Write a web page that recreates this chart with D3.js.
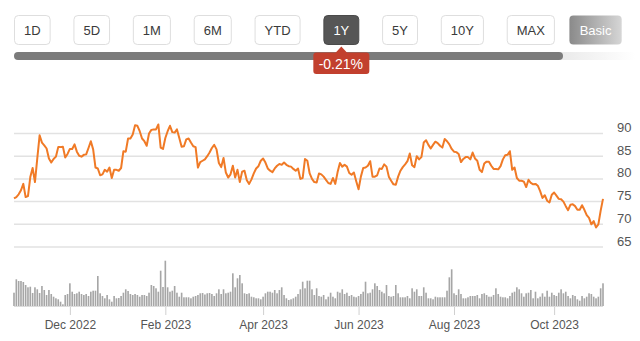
<!DOCTYPE html>
<html>
<head>
<meta charset="utf-8">
<script src="https://cdn.jsdelivr.net/npm/d3@7"></script>
<style>
  html, body { margin: 0; padding: 0; background: #fff; }
  svg { display: block; font-family: "Liberation Sans", Arial, Helvetica, sans-serif; }
</style>
</head>
<body>
<svg id="chart" width="640" height="341"></svg>
<script>
// Range selector buttons
const ranges = ["1D", "5D", "1M", "6M", "YTD", "1Y", "5Y", "10Y", "MAX", "Basic"];
const activeRange = "1Y";
const changeLabel = "-0.21%";

// Daily closing prices, one per trading day
const prices = [
  75.7, 76.0, 76.6, 77.5, 78.9, 76.0, 76.2, 80.4, 82.4, 79.3,
  84.5, 89.6, 88.0, 87.4, 86.7, 84.5, 83.6, 84.4, 84.9, 87.0,
  87.0, 87.1, 84.7, 85.5, 86.6, 86.6, 87.6, 86.0, 85.1, 84.9,
  85.3, 85.4, 86.8, 88.3, 86.5, 82.5, 82.3, 80.8, 81.0, 82.0,
  81.6, 82.5, 80.2, 82.0, 82.0, 81.8, 82.4, 86.1, 86.0, 88.9,
  88.9, 89.8, 91.8, 91.7, 90.5, 88.9, 88.3, 87.3, 90.0, 90.8,
  90.9, 90.9, 92.0, 86.9, 86.6, 89.0, 90.5, 91.7, 90.3, 90.2,
  90.9, 89.0, 87.1, 87.2, 88.7, 88.9, 88.0, 87.2, 87.0, 82.5,
  83.7, 84.0, 84.3, 85.0, 85.8, 86.8, 87.5, 86.5, 83.5, 82.6,
  84.6, 81.4, 80.3, 81.0, 82.9, 80.3, 82.0, 79.3, 81.6, 81.8,
  79.7, 78.9, 79.9, 81.2, 82.3, 82.8, 84.0, 84.5, 83.6, 82.3,
  81.8, 81.5, 82.3, 82.9, 83.3, 83.1, 83.6, 83.1, 82.8, 82.7,
  82.2, 81.8, 82.3, 80.0, 80.2, 84.4, 84.0, 81.2, 80.0, 79.3,
  79.2, 81.2, 81.0, 80.5, 79.8, 79.1, 78.9, 80.2, 78.9, 81.5,
  83.5, 82.7, 83.1, 82.7, 81.3, 80.9, 81.4, 79.5, 77.7, 80.5,
  82.4, 82.5, 82.9, 83.9, 80.5, 80.5, 80.8, 82.3, 82.2, 83.2,
  82.7, 80.5, 79.6, 78.8, 78.7, 80.5, 81.8, 82.6, 83.2, 83.9,
  85.6, 83.0, 82.6, 85.0, 84.3, 84.8, 88.0, 88.5, 87.5, 86.7,
  87.5, 88.2, 87.9, 87.3, 86.9, 88.8, 88.3, 87.6, 86.6, 86.0,
  85.9, 85.5, 83.7, 84.4, 84.8, 84.8, 84.3, 85.8, 84.5, 84.0,
  82.0, 81.5, 83.4, 83.8, 83.8, 82.9, 82.2, 82.2, 82.1, 82.8,
  84.3, 85.2, 85.3, 86.1, 82.0, 82.5, 80.2, 79.6, 79.6, 79.4,
  78.2, 79.8, 79.1, 78.8, 78.9, 78.5, 77.3, 75.8, 76.4, 75.2,
  74.8, 76.5, 77.0, 76.3, 75.6, 75.5, 75.0, 74.0, 73.1, 74.3,
  74.4, 74.0, 73.2, 73.2, 74.2, 73.2, 72.0, 71.4, 70.0, 70.7,
  69.3, 70.0, 73.0, 75.6
];

// Daily trading volume (millions of shares)
const volume = [
  13.3, 26.7, 25.0, 25.0, 24.0, 21.0, 18.7, 19.3, 13.0, 18.7,
  16.7, 13.0, 20.0, 16.0, 11.0, 16.0, 12.0, 9.3, 7.7, 6.7,
  4.3, 1.7, 11.0, 12.0, 22.7, 14.3, 12.0, 12.7, 14.3, 12.0,
  11.0, 12.0, 10.0, 14.3, 15.3, 15.3, 30.0, 12.7, 10.0, 7.7,
  11.0, 6.7, 4.3, 10.0, 7.7, 8.0, 10.0, 13.3, 16.7, 15.0,
  12.0, 11.0, 12.0, 11.0, 9.3, 11.0, 11.0, 10.0, 13.3, 21.0,
  20.0, 17.7, 14.3, 35.3, 19.0, 45.3, 18.7, 14.3, 15.3, 20.0,
  13.3, 9.3, 13.3, 8.7, 8.7, 8.7, 7.7, 9.3, 10.0, 11.0,
  12.7, 13.0, 11.5, 12.7, 13.0, 12.0, 10.0, 12.7, 16.7, 12.0,
  16.7, 12.7, 13.3, 14.3, 32.7, 18.7, 27.7, 31.0, 22.7, 12.7,
  12.0, 12.7, 9.3, 8.7, 7.7, 7.7, 6.7, 9.3, 12.7, 14.3,
  14.3, 13.3, 16.0, 12.7, 16.0, 18.7, 11.0, 7.7, 6.0, 6.7,
  7.7, 9.3, 12.0, 16.7, 24.3, 17.7, 25.3, 25.3, 16.7, 11.0,
  17.7, 10.0, 9.3, 11.0, 6.7, 9.3, 13.3, 9.3, 7.7, 14.3,
  13.3, 16.7, 12.0, 13.3, 10.0, 11.0, 9.3, 8.7, 10.0, 12.0,
  14.3, 24.3, 12.7, 13.3, 16.7, 22.7, 20.0, 16.0, 14.3, 12.7,
  21.0, 10.0, 9.3, 10.0, 21.0, 12.7, 8.7, 8.7, 8.7, 10.0,
  7.7, 17.7, 14.3, 16.7, 10.0, 10.0, 18.7, 13.3, 7.7, 7.7,
  6.7, 9.3, 8.7, 8.7, 8.7, 8.7, 15.3, 28.7, 36.7, 12.7,
  11.0, 16.7, 12.0, 7.7, 7.7, 8.7, 10.0, 10.0, 10.0, 11.0,
  7.7, 12.0, 12.7, 11.0, 9.3, 9.3, 11.0, 17.7, 12.0, 9.3,
  8.7, 8.7, 7.7, 10.0, 13.3, 14.3, 18.7, 16.7, 12.7, 9.3,
  12.7, 13.3, 16.0, 7.7, 14.3, 7.7, 9.3, 12.7, 9.3, 15.3,
  9.3, 13.3, 11.0, 10.0, 13.3, 16.7, 12.7, 14.3, 10.0, 7.7,
  11.0, 10.0, 6.7, 5.3, 10.0, 7.7, 9.3, 12.7, 12.0, 9.3,
  7.7, 9.3, 17.7, 22.7
];

// Month labels and the trading-day index where each month begins
const monthLabels = ["Dec 2022", "Feb 2023", "Apr 2023", "Jun 2023", "Aug 2023", "Oct 2023"];
const monthStartIndex = [24, 65, 107, 148, 189, 232];

// Price axis ticks
const priceTicks = [65, 70, 75, 80, 85, 90];

const svg = d3.select("#chart");
const left = 14, right = 603;

// ---------- range buttons ----------
const btnY = 15, btnH = 30, pad = 10, gap = 22.8;
const measure = svg.append("text").attr("font-size", 13).attr("visibility", "hidden");
let cx = left;
const btnLayout = ranges.map(r => {
  measure.text(r);
  const isBasic = r === "Basic";
  let w = Math.max(35, measure.node().getComputedTextLength() + pad * 2);
  if (isBasic) { cx -= 8.8; w += 1.5; }
  const b = { label: r, x: cx, w };
  cx += w + gap;
  return b;
});
measure.remove();

const defs = svg.append("defs");
const basicGrad = defs.append("linearGradient").attr("id", "basicGrad");
basicGrad.append("stop").attr("offset", "0%").attr("stop-color", "#8a8a8a");
basicGrad.append("stop").attr("offset", "100%").attr("stop-color", "#d6d6d6");

const trackGrad = defs.append("linearGradient").attr("id", "trackGrad");
trackGrad.append("stop").attr("offset", "0%").attr("stop-color", "#e4e4e4");
trackGrad.append("stop").attr("offset", "100%").attr("stop-color", "#ffffff");

const btns = svg.append("g").selectAll("g").data(btnLayout).join("g")
  .attr("transform", d => `translate(${d.x},${btnY})`);
btns.append("rect")
  .attr("x", 0.5).attr("y", 0.5)
  .attr("width", d => d.w - 1).attr("height", btnH - 1)
  .attr("rx", 4)
  .attr("fill", d => d.label === activeRange ? "#565656" : d.label === "Basic" ? "url(#basicGrad)" : "#fff")
  .attr("stroke", d => d.label === activeRange ? "#4a4a4a" : d.label === "Basic" ? "none" : "#dedede");
btns.append("text")
  .attr("x", d => d.w / 2).attr("y", btnH / 2 + 4.5)
  .attr("text-anchor", "middle").attr("font-size", 13)
  .attr("fill", d => (d.label === activeRange || d.label === "Basic") ? "#fff" : "#3a3a3a")
  .text(d => d.label);

// ---------- period bar ----------
const active = btnLayout.find(b => b.label === activeRange);
const barY = 52, barH = 8;
svg.append("rect").attr("x", 540).attr("y", barY).attr("width", 95).attr("height", barH)
  .attr("fill", "url(#trackGrad)");
svg.append("rect").attr("x", left).attr("y", barY).attr("width", 563 - left).attr("height", barH)
  .attr("rx", 4).attr("fill", "#7b7b7b");

// change badge under the active button
const badgeCx = active.x + active.w / 2;
const badge = svg.append("g");
badge.append("path")
  .attr("d", `M${badgeCx - 6},53 L${badgeCx},46.5 L${badgeCx + 6},53 Z`)
  .attr("fill", "#c2402e");
badge.append("rect")
  .attr("x", badgeCx - 28).attr("y", 52.5).attr("width", 56).attr("height", 21.5)
  .attr("rx", 3).attr("fill", "#c2402e");
badge.append("text")
  .attr("x", badgeCx - 0.5).attr("y", 68.5)
  .attr("text-anchor", "middle").attr("font-size", 14).attr("fill", "#fff")
  .text(changeLabel);

// ---------- price panel ----------
const x = d3.scaleLinear().domain([0, prices.length - 1]).range([left, right]);
const y = d3.scaleLinear().domain([65, 90]).range([247, 133.5]);

// grid lines
svg.append("g").selectAll("line").data(priceTicks).join("line")
  .attr("x1", left).attr("x2", right)
  .attr("y1", d => y(d)).attr("y2", d => y(d))
  .attr("stroke", "#e2e2e2").attr("stroke-width", 1.5);

// price labels on the right, sitting just above their grid lines
const yAxis = svg.append("g")
  .attr("transform", `translate(${right + 14},0)`)
  .call(d3.axisRight(y).tickValues(priceTicks).tickSize(0).tickPadding(0));
yAxis.select(".domain").remove();
yAxis.selectAll("text")
  .attr("dy", "-0.15em")
  .attr("font-size", 13)
  .attr("font-family", "Liberation Sans, Arial, sans-serif")
  .attr("fill", "#555");

// price line
svg.append("path")
  .datum(prices)
  .attr("fill", "none")
  .attr("stroke", "#f07a26")
  .attr("stroke-width", 2)
  .attr("stroke-linejoin", "round")
  .attr("d", d3.line().x((d, i) => x(i)).y(d => y(d)));

// ---------- volume panel ----------
const volBase = 306;
const v = d3.scaleLinear().domain([0, d3.max(volume)]).range([volBase, 260.7]);
const step = x(1) - x(0);
svg.append("g").selectAll("rect").data(volume).join("rect")
  .attr("x", (d, i) => x(i) - step * 0.35)
  .attr("width", step * 0.7)
  .attr("y", d => v(d))
  .attr("height", d => volBase - v(d))
  .attr("fill", "#a6a6a6");

svg.append("line")
  .attr("x1", left).attr("x2", right)
  .attr("y1", volBase + 0.5).attr("y2", volBase + 0.5)
  .attr("stroke", "#dcdcdc").attr("stroke-width", 1);

// month axis
const xAxis = svg.append("g")
  .attr("transform", `translate(0,${volBase + 1})`)
  .call(d3.axisBottom(x)
    .tickValues(monthStartIndex)
    .tickFormat((d, i) => monthLabels[i])
    .tickSize(8).tickPadding(5));
xAxis.select(".domain").remove();
xAxis.selectAll(".tick line").attr("stroke", "#d0d0d0");
xAxis.selectAll("text")
  .attr("font-size", 12)
  .attr("font-family", "Liberation Sans, Arial, sans-serif")
  .attr("fill", "#555");
</script>
</body>
</html>
